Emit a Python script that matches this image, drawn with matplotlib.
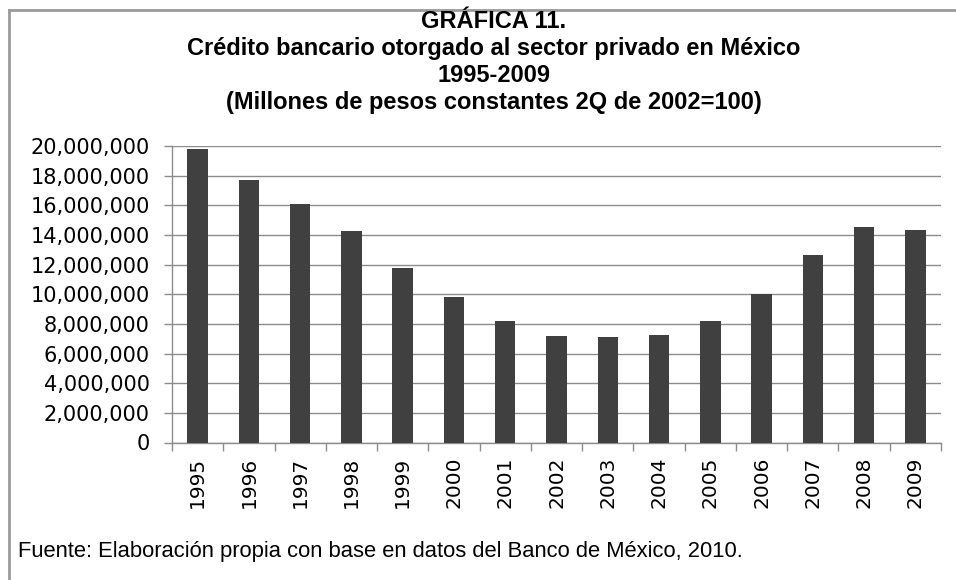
import matplotlib
matplotlib.use("Agg")
import matplotlib.pyplot as plt
from matplotlib.lines import Line2D
from matplotlib.ticker import FuncFormatter

plt.rcParams['font.family'] = ['Liberation Sans', 'DejaVu Sans']

# Data (millones de pesos constantes)
years = ["1995", "1996", "1997", "1998", "1999", "2000", "2001", "2002",
         "2003", "2004", "2005", "2006", "2007", "2008", "2009"]
credito = [19800000, 17730000, 16090000, 14290000, 11790000, 9790000,
           8210000, 7180000, 7090000, 7270000, 8210000, 10030000,
           12620000, 14530000, 14350000]
y_ticks = list(range(0, 20000001, 2000000))

title_lines = ["GRÁFICA 11.",
               "Crédito bancario otorgado al sector privado en México",
               "1995-2009",
               "(Millones de pesos constantes 2Q de 2002=100)"]
fuente = "Fuente: Elaboración propia con base en datos del Banco de México, 2010."

W, H = 956, 580
fig = plt.figure(figsize=(W / 100, H / 100), dpi=100)
fig.patch.set_facecolor("white")

# Outer frame (cut off at right and bottom)
fig.add_artist(Line2D([9 / W, 1.0], [1 - 10 / H, 1 - 10 / H], transform=fig.transFigure,
                      color="#9a9a9a", lw=2.0))
fig.add_artist(Line2D([9 / W, 9 / W], [1 - 10 / H, 0.0], transform=fig.transFigure,
                      color="#9a9a9a", lw=2.0))

ax = fig.add_axes([172 / W, 1 - 442.5 / H, 769 / W, 296.5 / H])
x = list(range(len(years)))
ax.bar(x, credito, width=0.4, color="#404040", zorder=3)

ax.set_xlim(-0.5, len(years) - 0.5)
ax.set_ylim(0, 20000000)
ax.set_yticks(y_ticks)
ax.yaxis.set_major_formatter(FuncFormatter(lambda v, p: f"{int(v):,}"))
ax.yaxis.grid(True, color="#8c8c8c", lw=1.0, zorder=0)

tick_font = "DejaVu Sans"
ax.set_xticks(x)
ax.set_xticklabels(years, rotation=90, fontsize=14.5, family=tick_font)
ax.set_xticks([i - 0.5 for i in range(len(years) + 1)], minor=True)
ax.tick_params(axis="x", which="major", length=0, pad=10)
ax.tick_params(axis="x", which="minor", length=6, color="#8c8c8c", width=1)
ax.tick_params(axis="y", length=6, color="#8c8c8c", width=1, labelsize=15, pad=10)
for lab in ax.get_yticklabels():
    lab.set_family(tick_font)

for s in ["top", "right"]:
    ax.spines[s].set_visible(False)
for s in ["left", "bottom"]:
    ax.spines[s].set_color("#8c8c8c")
    ax.spines[s].set_linewidth(1.0)

# Titles
title_y = [21, 48, 75, 103]
for line, yy in zip(title_lines, title_y):
    fig.text(494 / W, 1 - yy / H, line, ha="center", va="center",
             fontsize=17, fontweight="bold", color="black")

fig.text(18 / W, 1 - 552 / H, fuente, ha="left", va="center", fontsize=15.8, color="black")

fig.savefig("out.png", dpi=100)
